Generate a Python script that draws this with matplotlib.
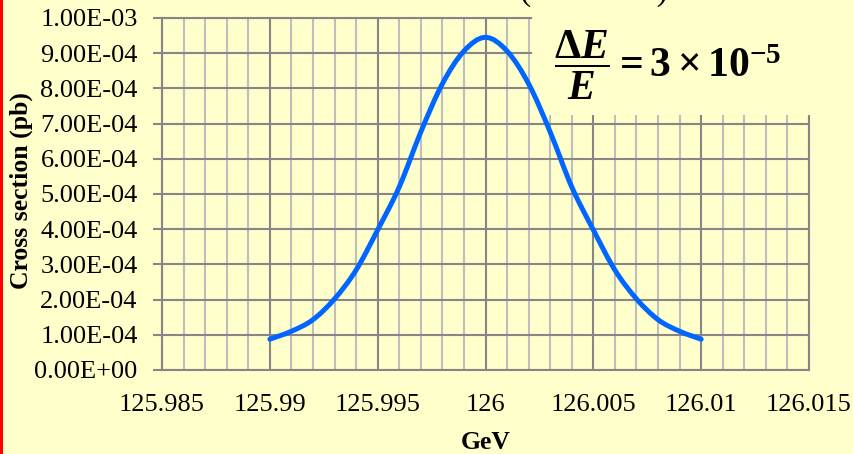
import matplotlib
matplotlib.use("Agg")
import matplotlib.pyplot as plt
from matplotlib.patches import Rectangle, PathPatch
from matplotlib.path import Path
from matplotlib.ticker import MultipleLocator, FuncFormatter

# beam energy (GeV) and cross section (pb)
energy = [125.990, 125.991, 125.992, 125.993, 125.994, 125.995, 125.996,
          125.997, 125.998, 125.999, 126.000, 126.001, 126.002, 126.003,
          126.004, 126.005, 126.006, 126.007, 126.008, 126.009, 126.010]
xsec = [0.875e-4, 1.10e-4, 1.43e-4, 2.02e-4, 2.84e-4, 3.98e-4, 5.20e-4,
        6.76e-4, 8.13e-4, 9.06e-4, 9.45e-4, 9.06e-4, 8.13e-4, 6.76e-4,
        5.20e-4, 3.98e-4, 2.84e-4, 2.02e-4, 1.43e-4, 1.10e-4, 0.875e-4]

bg = "#FFFFCC"
major_c = "#868686"
minor_c = "#BEBEBE"

plt.rcParams["font.family"] = ["Liberation Serif", "DejaVu Serif"]
plt.rcParams["mathtext.fontset"] = "custom"
plt.rcParams["mathtext.rm"] = "Liberation Serif:bold"
plt.rcParams["mathtext.bf"] = "Liberation Serif:bold"
plt.rcParams["mathtext.it"] = "Liberation Serif:italic:bold"


def smooth_path(xs, ys):
    # Catmull-Rom through the points, written as cubic Bezier segments
    pts = list(zip(xs, ys))
    verts = [pts[0]]
    codes = [Path.MOVETO]
    n = len(pts)
    for i in range(n - 1):
        p0 = pts[i - 1] if i > 0 else pts[i]
        p1 = pts[i]
        p2 = pts[i + 1]
        p3 = pts[i + 2] if i + 2 < n else pts[i + 1]
        c1 = (p1[0] + (p2[0] - p0[0]) / 6, p1[1] + (p2[1] - p0[1]) / 6)
        c2 = (p2[0] - (p3[0] - p1[0]) / 6, p2[1] - (p3[1] - p1[1]) / 6)
        verts += [c1, c2, p2]
        codes += [Path.CURVE4] * 3
    return Path(verts, codes)


fig = plt.figure(figsize=(8.54, 4.54), dpi=100, facecolor=bg)
ax = fig.add_axes([162 / 854, 1 - 370 / 454, 647 / 854, 352 / 454])
ax.set_facecolor(bg)

ax.set_xlim(125.985, 126.015)
ax.set_ylim(0, 1e-3)
ax.xaxis.set_major_locator(MultipleLocator(0.005))
ax.xaxis.set_minor_locator(MultipleLocator(0.001))
ax.yaxis.set_major_locator(MultipleLocator(1e-4))
ax.xaxis.set_major_formatter(FuncFormatter(lambda v, p: f"{round(v, 3):g}"))
ax.yaxis.set_major_formatter(FuncFormatter(lambda v, p: f"{v:.2E}"))

ax.set_axisbelow(True)
ax.grid(which="major", axis="both", color=major_c, lw=1.5)
ax.grid(which="minor", axis="x", color=minor_c, lw=1.5)
for s in ax.spines.values():
    s.set_color(major_c)
    s.set_linewidth(1.5)
    s.set_zorder(0.6)

ax.tick_params(axis="x", which="both", length=0, pad=17, labelsize=19)
ax.tick_params(axis="y", length=6.5, width=1.5, color=major_c, pad=11, labelsize=19)

ax.set_xlabel("GeV", fontsize=18.5, fontweight="bold", labelpad=11)
ax.set_ylabel("Cross section (pb)", fontsize=18.5, fontweight="bold")
ax.yaxis.set_label_coords(-0.200, 0.51)

# plain panel behind the formula, hiding the grid in that corner
ax.add_patch(Rectangle((532 / 854, 1 - 115 / 454), 1, 1, transform=fig.transFigure,
                       facecolor=bg, edgecolor="none", zorder=1, clip_on=False))

curve = PathPatch(smooth_path(energy, xsec), facecolor="none", edgecolor="#0066FF",
                  lw=3.6, capstyle="round", zorder=3, clip_on=False)
ax.add_patch(curve)

fig.text(554 / 854, 1 - 65 / 454, r"$\dfrac{\Delta E}{E} = 3\times10^{-5}$",
         fontsize=30, ha="left", va="center", zorder=6)
fig.text(594 / 854, 1.0, "(" + " " * 15 + ")", fontsize=24,
         ha="center", va="baseline", zorder=6)

# red frame edge on the left
fig.add_artist(Rectangle((0, 0), 3 / 854, 1, transform=fig.transFigure,
                         facecolor="#FF0000", edgecolor="none", zorder=7))

fig.savefig("out.png", dpi=100, facecolor=bg)
